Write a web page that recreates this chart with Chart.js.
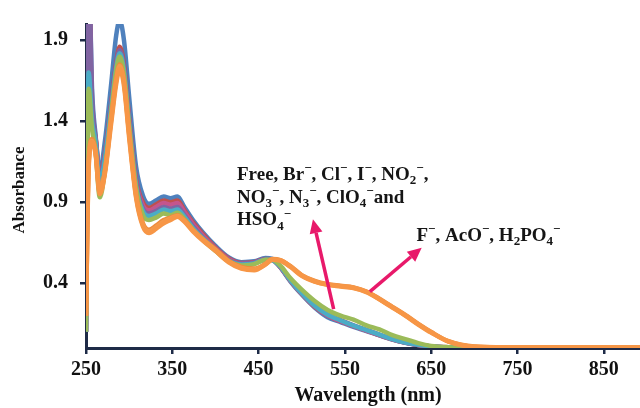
<!DOCTYPE html>
<html><head><meta charset="utf-8">
<script src="https://cdn.jsdelivr.net/npm/chart.js@4"></script>
<style>html,body{margin:0;padding:0;background:#fff}</style>
</head><body>
<canvas id="c" width="640" height="408"></canvas>
<script>
const wavelengths = [250,253,257,261,266,272,279,285,289,294,300,308,316,323,331,340,348,356,364,374,386,400,415,430,445,458,466,475,487,500,515,530,545,560,575,590,605,620,635,650,670,700,760,892];

const freeBlue = [0.1,2.4,1.6,1.32,1.09,1.28,1.62,1.93,2.02,1.9,1.55,1.12,0.94,0.89,0.91,0.935,0.925,0.935,0.87,0.79,0.71,0.63,0.56,0.53,0.535,0.555,0.55,0.5,0.41,0.33,0.25,0.19,0.16,0.13,0.105,0.078,0.052,0.032,0.018,0.009,0.004,0.002,0.001,0.001];
const redSeries = [0.1,2.3,1.42,1.3,1.06,1.2,1.5,1.76,1.86,1.75,1.42,1.04,0.9,0.865,0.885,0.91,0.9,0.91,0.85,0.775,0.7,0.62,0.555,0.525,0.53,0.55,0.545,0.5,0.415,0.335,0.255,0.2,0.165,0.135,0.108,0.08,0.054,0.033,0.019,0.01,0.004,0.002,0.001,0.001];
const pinkSeries = [0.1,2.3,1.45,1.3,1.05,1.19,1.48,1.74,1.83,1.72,1.4,1.03,0.88,0.85,0.87,0.895,0.885,0.895,0.84,0.765,0.69,0.615,0.55,0.522,0.528,0.548,0.543,0.5,0.415,0.335,0.257,0.2,0.166,0.136,0.108,0.08,0.054,0.033,0.019,0.01,0.004,0.002,0.001,0.001];
const purpleSeries = [0.1,2.4,1.55,1.3,1.04,1.19,1.49,1.75,1.84,1.73,1.4,1.02,0.86,0.83,0.845,0.87,0.86,0.87,0.82,0.75,0.68,0.61,0.545,0.52,0.527,0.548,0.544,0.505,0.42,0.34,0.262,0.207,0.172,0.14,0.112,0.083,0.056,0.034,0.02,0.01,0.004,0.002,0.001,0.001];
const tealSeries = [0.1,1.7,1.4,1.28,1.02,1.17,1.47,1.73,1.82,1.71,1.38,1.0,0.845,0.815,0.83,0.855,0.845,0.855,0.81,0.74,0.675,0.605,0.54,0.515,0.522,0.545,0.542,0.503,0.418,0.338,0.26,0.205,0.17,0.138,0.11,0.082,0.055,0.034,0.02,0.01,0.004,0.002,0.001,0.001];
const greenSeries = [0.1,1.6,1.35,1.22,0.93,1.1,1.44,1.71,1.8,1.69,1.37,0.99,0.82,0.79,0.805,0.83,0.82,0.835,0.795,0.73,0.665,0.6,0.535,0.51,0.518,0.545,0.545,0.51,0.43,0.36,0.29,0.235,0.2,0.175,0.14,0.115,0.08,0.055,0.03,0.013,0.005,0.002,0.001,0.001];
const fluoride = [0.2,1.1,1.27,1.2,0.95,1.08,1.38,1.63,1.72,1.62,1.3,0.93,0.75,0.71,0.735,0.77,0.79,0.81,0.78,0.72,0.66,0.6,0.53,0.49,0.48,0.515,0.545,0.54,0.5,0.445,0.41,0.39,0.38,0.37,0.345,0.3,0.25,0.2,0.145,0.095,0.04,0.008,0.003,0.003];
const acetate = [0.2,1.12,1.28,1.21,0.96,1.09,1.4,1.65,1.74,1.64,1.32,0.94,0.76,0.72,0.745,0.78,0.8,0.815,0.785,0.725,0.665,0.605,0.535,0.495,0.485,0.518,0.547,0.542,0.503,0.448,0.412,0.392,0.382,0.372,0.347,0.302,0.252,0.202,0.147,0.097,0.041,0.008,0.003,0.003];
const phosphate = [0.2,1.14,1.29,1.22,0.97,1.1,1.41,1.66,1.75,1.65,1.33,0.95,0.77,0.73,0.755,0.79,0.805,0.82,0.79,0.73,0.67,0.61,0.54,0.5,0.49,0.52,0.549,0.543,0.505,0.45,0.414,0.394,0.384,0.374,0.349,0.304,0.254,0.204,0.149,0.099,0.042,0.009,0.003,0.003];

const xTicks = [250,350,450,550,650,750,850];
const yTicks = [0.4,0.9,1.4,1.9];

const seriesList = [
  {label:'F-', data:fluoride, color:'#F79646'},
  {label:'AcO-', data:acetate, color:'#F39A4E'},
  {label:'H2PO4-', data:phosphate, color:'#EE8B3A'},
  {label:'green', data:greenSeries, color:'#9BBB59'},
  {label:'teal', data:tealSeries, color:'#4BACC6'},
  {label:'purple', data:purpleSeries, color:'#8064A2'},
  {label:'pink', data:pinkSeries, color:'#C4558D'},
  {label:'red', data:redSeries, color:'#C0504D'},
  {label:'Free', data:freeBlue, color:'#4F81BD'}
];

// annotation anchors (data coordinates)
const label1Pos = {x:425, y:1.039, dy:0.141};
const label2Pos = {x:633, y:0.661};
const arrow1 = {x1:537, y1:0.240, x2:513, y2:0.795};
const arrow2 = {x1:579, y1:0.348, x2:639, y2:0.619};

const NAVY = '#1E2B47';
const PINK = '#E8196A';
const SERIF = "'Liberation Serif', 'Times New Roman', serif";

const label1Lines = [
  [['Free, Br',0],['\u2212',1],[', Cl',0],['\u2212',1],[', I',0],['\u2212',1],[', NO',0],['2',-1],['\u2212',1],[',',0]],
  [['NO',0],['3',-1],['\u2212',1],[', N',0],['3',-1],['\u2212',1],[', ClO',0],['4',-1],['\u2212',1],['and',0]],
  [['HSO',0],['4',-1],['\u2212',1]]
];
const label2Line = [['F',0],['\u2212',1],[', AcO',0],['\u2212',1],[', H',0],['2',-1],['PO',0],['4',-1],['\u2212',1]];

function drawRich(ctx, x, y, segs, size){
  ctx.textBaseline = 'alphabetic';
  ctx.textAlign = 'left';
  for (const [t, m] of segs){
    const fs = m === 0 ? size : Math.round(size*0.66);
    ctx.font = 'bold ' + fs + 'px ' + SERIF;
    const dy = m === 1 ? -size*0.4 : (m === -1 ? size*0.22 : 0);
    ctx.fillText(t, x, y + dy);
    x += ctx.measureText(t).width;
  }
}
function drawArrow(ctx, x1, y1, x2, y2){
  const a = Math.atan2(y2-y1, x2-x1), L = 14, W = 6.5;
  const bx = x2 - L*Math.cos(a), by = y2 - L*Math.sin(a);
  ctx.strokeStyle = PINK; ctx.fillStyle = PINK; ctx.lineWidth = 3.5; ctx.lineCap='butt';
  ctx.beginPath(); ctx.moveTo(x1,y1); ctx.lineTo(bx,by); ctx.stroke();
  ctx.beginPath(); ctx.moveTo(x2,y2);
  ctx.lineTo(bx + W*Math.sin(a), by - W*Math.cos(a));
  ctx.lineTo(bx - W*Math.sin(a), by + W*Math.cos(a));
  ctx.closePath(); ctx.fill();
}

const annotations = {
  id:'annotations',
  afterDatasetsDraw(chart){
    const ctx = chart.ctx, xs = chart.scales.x, ys = chart.scales.y;
    ctx.save();
    drawArrow(ctx, xs.getPixelForValue(arrow1.x1), ys.getPixelForValue(arrow1.y1), xs.getPixelForValue(arrow1.x2), ys.getPixelForValue(arrow1.y2));
    drawArrow(ctx, xs.getPixelForValue(arrow2.x1), ys.getPixelForValue(arrow2.y1), xs.getPixelForValue(arrow2.x2), ys.getPixelForValue(arrow2.y2));
    ctx.fillStyle = '#151515';
    label1Lines.forEach((segs, i) => {
      drawRich(ctx, xs.getPixelForValue(label1Pos.x), ys.getPixelForValue(label1Pos.y - i*label1Pos.dy), segs, 19);
    });
    drawRich(ctx, xs.getPixelForValue(label2Pos.x), ys.getPixelForValue(label2Pos.y), label2Line, 19);
    // axis titles
    ctx.fillStyle = '#111';
    ctx.textAlign = 'center'; ctx.textBaseline = 'middle';
    ctx.font = 'bold 20px ' + SERIF;
    ctx.fillText('Wavelength (nm)', 368, 396);
    ctx.translate(20, 190); ctx.rotate(-Math.PI/2);
    ctx.font = 'bold 17px ' + SERIF;
    ctx.fillText('Absorbance', 0, 0);
    ctx.restore();
  }
};

new Chart(document.getElementById('c'), {
  type:'line',
  data:{
    datasets: seriesList.map(s => ({
      label:s.label,
      data: wavelengths.map((w,i) => ({x:w, y:s.data[i]})),
      borderColor:s.color, backgroundColor:s.color,
      borderWidth:4.5, pointRadius:0, fill:false,
      cubicInterpolationMode:'monotone'
    }))
  },
  options:{
    responsive:false, animation:false, devicePixelRatio:1,
    layout:{padding:{top:15, right:0, left:0, bottom:0}},
    plugins:{legend:{display:false}, tooltip:{enabled:false}},
    scales:{
      x:{
        type:'linear', min:250, max:892,
        afterBuildTicks: s => { s.ticks = xTicks.map(v => ({value:v})); },
        afterFit: s => { s.height = 60; },
        grid:{drawOnChartArea:false, drawTicks:true, tickLength:6, tickColor:NAVY, lineWidth:2.5},
        border:{display:true, color:NAVY, width:3},
        ticks:{font:{family:SERIF, size:20, weight:'bold'}, color:'#111', padding:4, maxRotation:0}
      },
      y:{
        type:'linear', min:0, max:2.0,
        afterBuildTicks: s => { s.ticks = yTicks.map(v => ({value:v})); },
        afterFit: s => { s.width = 86; },
        grid:{drawOnChartArea:false, drawTicks:true, tickLength:6, tickColor:NAVY, lineWidth:2.5},
        border:{display:true, color:NAVY, width:3},
        ticks:{font:{family:SERIF, size:20, weight:'bold'}, color:'#111', padding:12, callback:v => v.toFixed(1)}
      }
    }
  },
  plugins:[annotations]
});
</script>
</body></html>
